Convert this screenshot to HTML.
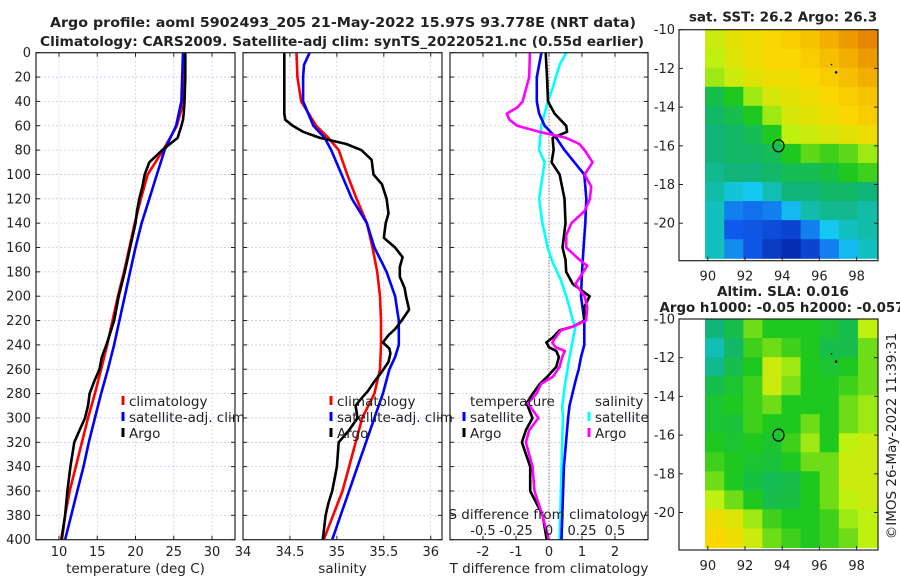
<!DOCTYPE html>
<html><head><meta charset="utf-8">
<style>
html,body{margin:0;padding:0;background:#fff;}
svg{display:block;font-family:"DejaVu Sans","Liberation Sans",sans-serif;}
</style></head>
<body>
<svg id="fig" width="900" height="580" viewBox="0 0 900 580" xmlns="http://www.w3.org/2000/svg"></svg>
<script>
// ---- data ----
const tClimDepth=[0,20,40,60,80,100,120,140,160,180,200,220,240,260,280,300,320,340,360,380,400];
const tClimVal=[26.4,26.4,26.3,25.4,23.6,21.6,20.7,19.9,19.2,18.5,17.7,17.0,16.3,15.5,14.7,13.8,13.0,12.2,11.4,10.8,10.4];
const tSatVal=[26.2,26.1,26.0,25.3,23.8,22.8,21.8,20.8,20.0,19.3,18.6,17.9,17.2,16.4,15.5,14.7,13.9,13.2,12.4,11.6,10.8];
const tArgoDepth=[0,20,40,50,55,60,70,80,90,100,110,120,130,140,160,180,200,220,240,250,260,270,280,290,300,310,320,340,360,380,400];
const tArgoVal=[26.5,26.5,26.4,26.3,26.2,26.0,25.5,23.5,21.8,21.2,20.9,20.5,20.2,20.0,19.3,18.6,17.8,17.2,16.2,15.6,15.3,14.6,14.0,13.8,13.4,12.7,12.0,11.5,11.1,10.8,10.3];

const sClimDepth=[0,20,40,60,70,80,100,120,140,160,180,200,220,240,260,280,300,340,360,400];
const sClimVal=[34.57,34.58,34.62,34.78,34.91,35.02,35.11,35.21,35.32,35.38,35.43,35.46,35.47,35.47,35.46,35.40,35.27,35.13,35.06,34.86];
const sSatDepth=[0,10,20,40,60,70,80,100,120,140,160,180,200,220,240,250,260,280,300,320,340,360,380,400];
const sSatVal=[34.71,34.65,34.64,34.64,34.75,34.87,34.94,35.05,35.16,35.32,35.40,35.53,35.62,35.66,35.66,35.62,35.56,35.49,35.40,35.31,35.22,35.13,35.04,34.95];
const sArgoDepth=[0,50,55,60,65,70,75,80,88,100,108,120,132,140,152,160,168,176,184,193,201,211,220,227,232,238,243,247,254,262,270,278,285,290,300,310,320,340,360,370,380,400];
const sArgoVal=[34.44,34.44,34.45,34.53,34.64,34.82,35.10,35.26,35.37,35.39,35.48,35.53,35.55,35.52,35.50,35.62,35.70,35.67,35.67,35.72,35.74,35.77,35.69,35.62,35.55,35.49,35.56,35.57,35.55,35.48,35.40,35.33,35.25,35.20,35.22,35.13,35.02,35.00,34.95,34.91,34.88,34.85];

const dTSatDepth=[0,20,40,50,60,70,80,90,100,120,140,160,180,200,220,240,250,260,270,290,300,340,400];
const dTSatVal=[-0.23,-0.37,-0.37,-0.30,-0.13,0.22,0.47,0.77,1.07,1.13,1.10,1.05,1.0,0.97,1.07,1.07,0.97,0.9,0.8,0.62,0.58,0.45,0.38];
const dTArgoDepth=[0,20,40,50,60,65,70,80,90,100,120,140,160,170,180,190,200,209,220,225,228,234,238,242,245,250,258,266,272,280,288,300,310,320,340,360,380,400];
const dTArgoVal=[-0.1,-0.06,-0.03,0.17,0.52,0.55,0.11,0.14,0.08,0.32,0.47,0.5,0.41,0.5,0.52,0.72,1.23,1.07,1.07,0.72,0.32,0.11,-0.08,0.0,0.22,0.3,0.22,-0.05,-0.28,-0.49,-0.68,-0.5,-0.7,-0.82,-0.57,-0.57,-0.19,-0.07];
const dSSatDepth=[0,10,30,40,60,80,90,120,140,160,170,187,200,209,220,225,250,270,290,300,400];
const dSSatVal=[0.13,0.08,0.025,-0.008,-0.058,-0.075,-0.033,-0.075,-0.05,-0.01,0.02,0.09,0.13,0.155,0.18,0.2,0.155,0.125,0.1,0.105,0.08];
const dSArgoDepth=[0,20,30,40,45,50,55,60,65,70,75,80,90,100,110,120,130,140,150,160,170,175,180,190,200,209,220,225,228,234,238,242,245,250,258,266,272,280,288,300,310,320,340,360,380,400];
const dSArgoVal=[-0.145,-0.15,-0.175,-0.2,-0.24,-0.32,-0.3,-0.24,-0.075,0.13,0.23,0.27,0.33,0.27,0.32,0.31,0.27,0.17,0.13,0.13,0.23,0.29,0.26,0.2,0.27,0.29,0.28,0.18,0.09,0.05,0.025,0.05,0.12,0.1,0.08,0.03,-0.06,-0.095,-0.16,-0.08,-0.15,-0.175,-0.125,-0.11,-0.05,0.0];

const sstGrid=[
[0.62,0.66,0.68,0.70,0.72,0.74,0.78,0.82,0.86],
[0.60,0.65,0.68,0.70,0.70,0.72,0.75,0.78,0.82],
[0.58,0.62,0.66,0.68,0.68,0.70,0.72,0.75,0.78],
[0.45,0.50,0.58,0.64,0.66,0.68,0.70,0.72,0.74],
[0.42,0.45,0.50,0.58,0.64,0.66,0.68,0.70,0.72],
[0.40,0.42,0.44,0.50,0.60,0.62,0.64,0.66,0.68],
[0.40,0.42,0.42,0.44,0.50,0.54,0.52,0.54,0.58],
[0.38,0.40,0.40,0.42,0.44,0.44,0.46,0.50,0.52],
[0.36,0.32,0.30,0.35,0.40,0.40,0.42,0.42,0.40],
[0.34,0.20,0.18,0.20,0.28,0.36,0.38,0.38,0.36],
[0.34,0.15,0.14,0.12,0.10,0.20,0.30,0.34,0.36],
[0.34,0.22,0.14,0.08,0.05,0.10,0.20,0.28,0.34]];
const slaGrid=[
[0.40,0.45,0.55,0.50,0.50,0.50,0.48,0.45,0.60],
[0.35,0.42,0.52,0.55,0.52,0.50,0.45,0.45,0.55],
[0.38,0.45,0.50,0.62,0.58,0.50,0.48,0.50,0.55],
[0.45,0.48,0.52,0.62,0.56,0.50,0.50,0.52,0.55],
[0.48,0.50,0.52,0.55,0.50,0.50,0.50,0.55,0.58],
[0.48,0.47,0.52,0.50,0.50,0.55,0.50,0.55,0.58],
[0.50,0.48,0.50,0.48,0.52,0.58,0.50,0.60,0.62],
[0.52,0.50,0.48,0.47,0.50,0.55,0.55,0.62,0.62],
[0.55,0.50,0.46,0.44,0.45,0.50,0.55,0.62,0.62],
[0.60,0.55,0.50,0.45,0.46,0.50,0.55,0.60,0.62],
[0.68,0.65,0.58,0.52,0.50,0.50,0.52,0.58,0.60],
[0.70,0.68,0.62,0.55,0.52,0.50,0.52,0.55,0.60]];
const depthTicks=[0,20,40,60,80,100,120,140,160,180,200,220,240,260,280,300,320,340,360,380,400];
const tTicks=[10,15,20,25,30];
const sTicks=[34,34.5,35,35.5,36];
const dTicks=[-2,-1,0,1,2];
const dSTickLabels=["-0.5","-0.25","0","0.25","0.5"];
const dSTickVals=[-0.5,-0.25,0,0.25,0.5];
const latTicks=[-10,-12,-14,-16,-18,-20];
const lonTicks=[90,92,94,96,98];

// ---- helpers ----
const NS="http://www.w3.org/2000/svg";
const svg=document.getElementById('fig');
function mk(tag,attrs,parent){const e=document.createElementNS(NS,tag);for(const k in attrs)e.setAttribute(k,attrs[k]);(parent||svg).appendChild(e);return e;}
function txt(s,x,y,size,anchor,weight,parent){const t=mk('text',{x:x,y:y,'font-size':size,'text-anchor':anchor||'start','font-weight':weight||'normal',fill:'#222'},parent);t.textContent=s;return t;}

const Y0=52.7,Y1=539.7;
const yD=d=>Y0+(d/400)*(Y1-Y0);
const panels=[
 {name:'temperature-panel',x0:36,x1:235,min:7,max:33,ticks:tTicks,title:'temperature (deg C)'},
 {name:'salinity-panel',x0:243,x1:442,min:34,max:36.12,ticks:sTicks,title:'salinity'},
 {name:'difference-panel',x0:450,x1:648,min:-3,max:3,ticks:dTicks,title:'T difference from climatology'}];
const xf=(p,v)=>p.x0+(v-p.min)/(p.max-p.min)*(p.x1-p.x0);

panels.forEach((p,i)=>{
  const g=mk('g',{});
  
  
  mk('rect',{x:p.x0,y:Y0,width:p.x1-p.x0,height:Y1-Y0,fill:'#fff'},g);
  depthTicks.forEach(d=>{
    mk('line',{x1:p.x0,x2:p.x1,y1:yD(d),y2:yD(d),stroke:'#c4c8ee','stroke-width':0.8,'stroke-dasharray':'2,2'},g);
    mk('line',{x1:p.x0,x2:p.x0+4,y1:yD(d),y2:yD(d),stroke:'#222'},g);
    mk('line',{x1:p.x1-4,x2:p.x1,y1:yD(d),y2:yD(d),stroke:'#222'},g);
    if(i===0){const t=txt(String(d),31,yD(d)+4.5,13,'end','normal',g);}
  });
  p.ticks.forEach(v=>{
    const x=xf(p,v);
    mk('line',{x1:x,x2:x,y1:Y0,y2:Y1,stroke:'#dcc8d8','stroke-width':0.8,'stroke-dasharray':'2,2'},g);
    mk('line',{x1:x,x2:x,y1:Y1,y2:Y1-4,stroke:'#222'},g);
    mk('line',{x1:x,x2:x,y1:Y0,y2:Y0+4,stroke:'#222'},g);
    const t=txt(String(v),x,556,13,'middle','normal',g);
    
    
  });
  const at=txt(p.title,(p.x0+p.x1)/2,573,13.5,'middle','normal',g);
  
  
});

function line(p,depths,vals,color,name,scale){
  const pts=depths.map((d,k)=>xf(p,vals[k]*(scale||1)).toFixed(1)+','+yD(d).toFixed(1)).join(' ');
  const e=mk('polyline',{points:pts,fill:'none',stroke:color,'stroke-width':2.6,'stroke-linejoin':'round'});
  
  
}
const P=panels;
mk('line',{x1:xf(P[2],0),x2:xf(P[2],0),y1:Y0,y2:Y1,stroke:'#555','stroke-width':1,'stroke-dasharray':'1,2'});
line(P[0],tClimDepth,tClimVal,'#f00','temp-climatology-line');
line(P[0],tClimDepth,tSatVal,'#00f','temp-satellite-line');
line(P[0],tArgoDepth,tArgoVal,'#000','temp-argo-line');
line(P[1],sClimDepth,sClimVal,'#f00','sal-climatology-line');
line(P[1],sSatDepth,sSatVal,'#00f','sal-satellite-line');
line(P[1],sArgoDepth,sArgoVal,'#000','sal-argo-line');
line(P[2],dSSatDepth,dSSatVal,'#0ff','sdiff-satellite-line',4);
line(P[2],dTSatDepth,dTSatVal,'#00f','tdiff-satellite-line');
line(P[2],dTArgoDepth,dTArgoVal,'#000','tdiff-argo-line');
line(P[2],dSArgoDepth,dSArgoVal,'#f0f','sdiff-argo-line',4);
panels.forEach(p=>{mk('rect',{x:p.x0,y:Y0,width:p.x1-p.x0,height:Y1-Y0,fill:'none',stroke:'#222','stroke-width':1.2});});

function legEntry(x,y,color,label,name){
  const g=mk('g',{});
  
  
  mk('line',{x1:x,x2:x,y1:y-10,y2:y-1,stroke:color,'stroke-width':3},g);
  txt(label,x+6,y,13.5,'start','normal',g);
}
legEntry(123,406,'#f00','climatology','legend-climatology');
legEntry(123,422,'#00f','satellite-adj. clim','legend-satellite');
legEntry(123,438,'#000','Argo','legend-argo');
legEntry(331,406,'#f00','climatology','legend-climatology-sal');
legEntry(331,422,'#00f','satellite-adj. clim','legend-satellite-sal');
legEntry(331,438,'#000','Argo','legend-argo-sal');
{const t=txt('temperature',470,406,13.5,'start','normal');}
legEntry(464,422,'#00f','satellite','legend-t-satellite');
legEntry(464,438,'#000','Argo','legend-t-argo');
{const t=txt('salinity',595,406,13.5,'start','normal');}
legEntry(589,422,'#0ff','satellite','legend-s-satellite');
legEntry(589,438,'#f0f','Argo','legend-s-argo');
{const t=txt('S difference from climatology',548,519,13.5,'middle','normal');}
dSTickVals.forEach((v,k)=>{
  const t=txt(dSTickLabels[k],xf(P[2],v*4),535,13,'middle','normal');
  
  
});

{const t=txt('Argo profile: aoml 5902493_205 21-May-2022 15.97S 93.778E (NRT data)',343,27,13.5,'middle','bold');t.setAttribute('textLength','586');t.setAttribute('lengthAdjust','spacingAndGlyphs');}
{const t=txt('Climatology: CARS2009. Satellite-adj clim: synTS_20220521.nc (0.55d earlier)',342,46,13.5,'middle','bold');t.setAttribute('textLength','604');t.setAttribute('lengthAdjust','spacingAndGlyphs');}

const stops=[[0,[0,24,150]],[0.15,[16,90,235]],[0.3,[20,200,240]],[0.4,[16,180,120]],[0.5,[30,200,30]],[0.6,[190,240,16]],[0.7,[250,215,0]],[0.8,[240,165,0]],[0.9,[225,112,0]],[1,[200,70,0]]];
function cmap(v){for(let k=1;k<stops.length;k++){if(v<=stops[k][0]){const a=stops[k-1],b=stops[k];const f=(v-a[0])/(b[0]-a[0]);return 'rgb('+a[1].map((c,j)=>Math.round(c+(b[1][j]-c)*f)).join(',')+')';}}return 'rgb(200,70,0)';}
const LON0=88.45,LON1=99.15;const MX0=679,MX1=878;
const lonX=l=>MX0+(l-LON0)/(LON1-LON0)*(MX1-MX0);
function map(top,grid,name,title1,title2){
  const bottom=top+231;
  const latY=l=>top+(-10-l)/2*38.7;
  const g=mk('g',{});
  
  
  const rows=grid.length,cols=grid[0].length;
  const gx0=lonX(89.85),gx1=lonX(99.1),gy0=top,gy1=bottom-2.5;
  const cw=(gx1-gx0)/cols,ch=(gy1-gy0)/rows;
  grid.forEach((row,r)=>row.forEach((v,c)=>{
    const cell=mk('rect',{x:(gx0+c*cw).toFixed(1),y:(gy0+r*ch).toFixed(1),width:(cw+0.6).toFixed(1),height:(ch+0.6).toFixed(1),fill:cmap(v)},g);
    
    
  }));
  mk('rect',{x:MX0,y:top,width:MX1-MX0,height:bottom-top,fill:'none',stroke:'#222','stroke-width':1.2},g);
  latTicks.forEach(l=>{const y=latY(l);mk('line',{x1:MX0,x2:MX0+4,y1:y,y2:y,stroke:'#222'},g);mk('line',{x1:MX1-4,x2:MX1,y1:y,y2:y,stroke:'#222'},g);txt(String(l),675,y+4.5,13,'end','normal',g);});
  lonTicks.forEach(l=>{const x=lonX(l);mk('line',{x1:x,x2:x,y1:bottom,y2:bottom-4,stroke:'#222'},g);txt(String(l),x,bottom+20,13,'middle','normal',g);});
  const fx=lonX(93.8),fy=latY(-16);
  const f=mk('ellipse',{cx:fx,cy:fy,rx:5.5,ry:6,fill:'none',stroke:'#000','stroke-width':1.2},g);
  
  
  mk('circle',{cx:lonX(96.9),cy:latY(-12.2),r:1.3,fill:'#000'},g);
  mk('circle',{cx:lonX(96.65),cy:latY(-11.8),r:0.8,fill:'#000'},g);
  if(title1){const t=txt(title1,783,top-(title2?23:8),13.5,'middle','bold',g);}
  if(title2){const t=txt(title2,782,top-7,13.5,'middle','bold',g);t.setAttribute('textLength','245');t.setAttribute('lengthAdjust','spacingAndGlyphs');}
}
map(29.7,sstGrid,'sst-map','sat. SST: 26.2 Argo: 26.3',null);
map(319,slaGrid,'sla-map','Altim. SLA: 0.016','Argo h1000: -0.05 h2000: -0.057');
{const t=txt('©IMOS 26-May-2022 11:39:31',0,0,13.5,'middle','normal');t.setAttribute('transform','translate(896,436) rotate(-90)');}
</script>
</body></html>
